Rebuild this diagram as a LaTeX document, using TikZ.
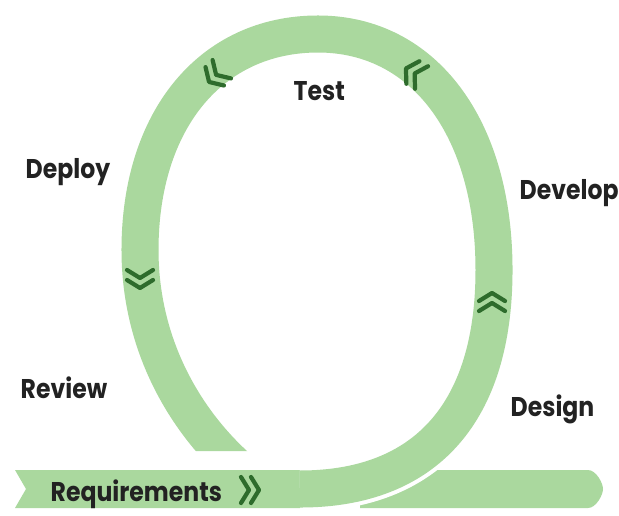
\documentclass[tikz,border=0pt]{standalone}
\usepackage{fontspec}
\setmainfont{Poppins}[FakeStretch=0.87]
\usetikzlibrary{arrows.meta}
\definecolor{bandgreen}{RGB}{170,216,158}
\definecolor{chevgreen}{RGB}{46,108,44}
\definecolor{textgray}{RGB}{34,34,34}

\tikzset{
  phasetext/.style={font=\bfseries\fontsize{7.7}{9}\selectfont, text=textgray, inner sep=0pt, anchor=base west},
  band/.style={draw=bandgreen, line width=0.37cm},
  casing/.style={draw=white, line width=0.45cm},
  chev/.style={draw=chevgreen, line width=0.042cm, line cap=round, line join=round},
  chevrons/.pic={
    \draw[chev] (-11,-13) -- (-3,0) -- (-11,13);
    \draw[chev] (-1,-13) -- (7,0) -- (-1,13);
  }
}

\begin{document}
\begin{tikzpicture}[x=0.01cm, y=-0.01cm]
\useasboundingbox (0,0) rectangle (619,515);

% exit band, passes under the loop
\fill[bandgreen] (360,470) -- (588,470) .. controls (596,470) and (603,483) .. (603,489)
  .. controls (603,495) and (596,508) .. (588,508) -- (360,508) -- cycle;

% requirements band with notched tail
\fill[bandgreen] (15,470) -- (320,470) -- (320,508) -- (15,508) -- (26,489) -- cycle;

% the loop, cut flat at its lower left end
\begin{scope}
\clip (0,0) -- (619,0) -- (619,515) -- (295,515) -- (295,451) -- (0,451) -- cycle;
\draw[band, preaction={casing}] (300,489)
  .. controls (426,489) and (494,412) .. (494,270)
  .. controls (494,128) and (424,34) .. (318,34)
  .. controls (211,34) and (140,120) .. (140,250)
  .. controls (140,350) and (190,430) .. (250,478);
\end{scope}

\foreach \px/\py/\ang in {
    252/490/0, 492/300/90, 412/72/150,
    214/77/225, 140/281/270}
  \pic[rotate=\ang] at (\px,\py) {chevrons};

\node[phasetext] (test) at (293,100) {Test};
\node[phasetext] (deploy) at (25,178) {Deploy};
\node[phasetext] (develop) at (519,199) {Develop};
\node[phasetext] (review) at (20,398) {Review};
\node[phasetext] (design) at (510,416) {Design};
\node[phasetext] (req) at (50,501) {Requirements};

\end{tikzpicture}
\end{document}
